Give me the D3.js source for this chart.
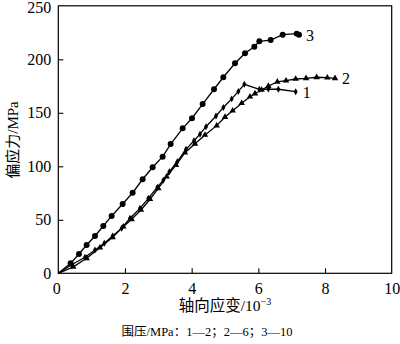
<!DOCTYPE html>
<html><head><meta charset="utf-8">
<script src="https://cdn.jsdelivr.net/npm/d3@7"></script>
<style>
body{margin:0;background:#fff;}
svg text{font-family:"Liberation Serif","Times New Roman","Noto Sans CJK SC",serif;fill:#000;}
</style></head>
<body><svg id="c" width="400" height="344"></svg>
<script>
// data: strain (10^-3) and deviatoric stress (MPa)
const curve1Strain = [0,0.4,0.8,1.1,1.38,1.63,1.9,2.15,2.45,2.7,2.97,3.15,3.33,3.57,3.83,4.07,4.25,4.43,4.73,4.95,5.2,5.4,5.58,6.03,6.3,6.6,7.12];
const curve1Stress = [0,8,15,21.8,28,34.9,42.1,51.4,60.7,70.1,80.4,87,95,104.3,115.9,123.9,130,137,147,155,163,170,176.6,172,172.2,172,169.7];
const curve2Strain = [0,0.45,0.85,1.25,1.63,1.95,2.2,2.48,2.75,3.0,3.25,3.53,3.8,4.1,4.4,4.75,5.0,5.23,5.5,5.75,5.9,6.1,6.3,6.57,6.83,7.12,7.43,7.75,8.07,8.3];
const curve2Stress = [0,6,14,24,33.6,43.6,50.5,59.2,69.2,79.4,90.3,101.2,112.7,121,129.3,138,146,152,159,165,168,171.3,175,179,180,181.6,182.2,183.2,182.8,182.2];
const curve3Strain = [0,0.37,0.62,0.85,1.10,1.35,1.60,1.93,2.23,2.53,2.83,3.13,3.37,3.73,4.01,4.33,4.67,4.95,5.30,5.60,5.88,6.03,6.37,6.73,7.15,7.22];
const curve3Stress = [0,9.3,18,26.4,34.9,44.2,53.6,64.8,75.3,87.9,99.1,109,120.8,135.5,144.9,158.2,172,183.2,196.3,205.6,211.8,216.8,218,223,224,223];
const curveLabels = ["1","2","3"];
const xTicks = [0,2,4,6,8,10];
const yTicks = [0,50,100,150,200,250];

const svg = d3.select("#c");
const x = d3.scaleLinear().domain([0,10]).range([58.3,391.7]);
const y = d3.scaleLinear().domain([0,250]).range([273.3,5.8]);

// frame
svg.append("rect").attr("x",x(0)).attr("y",y(250)).attr("width",x(10)-x(0)).attr("height",y(0)-y(250))
  .attr("fill","none").attr("stroke","#000").attr("stroke-width",1.2);

// axes with inward ticks
const xAxis = svg.append("g").attr("transform",`translate(0,${y(0)})`)
  .call(d3.axisBottom(x).tickValues(xTicks).tickSize(-5).tickPadding(9).tickFormat(d3.format("d")));
const yAxis = svg.append("g").attr("transform",`translate(${x(0)},0)`)
  .call(d3.axisLeft(y).tickValues(yTicks).tickSize(-5).tickPadding(7).tickFormat(d3.format("d")));
[xAxis,yAxis].forEach(g=>{
  g.select(".domain").remove();
  g.selectAll(".tick line").attr("stroke","#000").attr("stroke-width",1.1);
  g.selectAll(".tick text").style("font-size","16px").attr("fill","#000");
});
xAxis.selectAll(".tick").filter(d=>d===0||d===10).select("line").remove();
yAxis.selectAll(".tick").filter(d=>d===0||d===250).select("line").remove();
xAxis.selectAll(".tick").filter(d=>d===0).select("text").attr("dx",-2);
yAxis.selectAll(".tick").filter(d=>d===250).select("text").attr("dy","0.32em").attr("y",1.5);

const line = d3.line().x(d=>x(d[0])).y(d=>y(d[1]));
const series = [
  {pts: d3.zip(curve1Strain,curve1Stress), sym: d3.symbolDiamond, size: 14},
  {pts: d3.zip(curve2Strain,curve2Stress), sym: d3.symbolTriangle, size: 18},
  {pts: d3.zip(curve3Strain,curve3Stress), sym: d3.symbolCircle, size: 28}
];
series.forEach(s=>{
  svg.append("path").attr("d",line(s.pts)).attr("fill","none").attr("stroke","#000").attr("stroke-width",1.3);
  svg.append("g").selectAll("path").data(s.pts.slice(1)).join("path")
    .attr("d",d3.symbol().type(s.sym).size(s.size))
    .attr("transform",d=>`translate(${x(d[0])},${y(d[1])})`).attr("fill","#000");
});

// curve labels
const labelPos = [[curve1Strain, curve1Stress],[curve2Strain,curve2Stress],[curve3Strain,curve3Stress]];
labelPos.forEach((c,i)=>{
  const n = c[0].length-1;
  svg.append("text").attr("x",x(c[0][n])+7).attr("y",y(c[1][n])+6)
    .style("font-size","16px").text(curveLabels[i]);
});

// axis titles
svg.append("text").attr("transform","translate(18,140) rotate(-90)").attr("text-anchor","middle")
  .style("font-size","15px").text("偏应力/MPa");
const xt = svg.append("text").attr("x",225).attr("y",311).attr("text-anchor","middle").style("font-size","15.5px");
xt.append("tspan").text("轴向应变/10");
xt.append("tspan").attr("dy",-6).style("font-size","10px").text("−3");
svg.append("text").attr("x",207).attr("y",336).attr("text-anchor","middle").style("font-size","12.5px")
  .text("围压/MPa：1—2；2—6；3—10");
</script></body></html>
